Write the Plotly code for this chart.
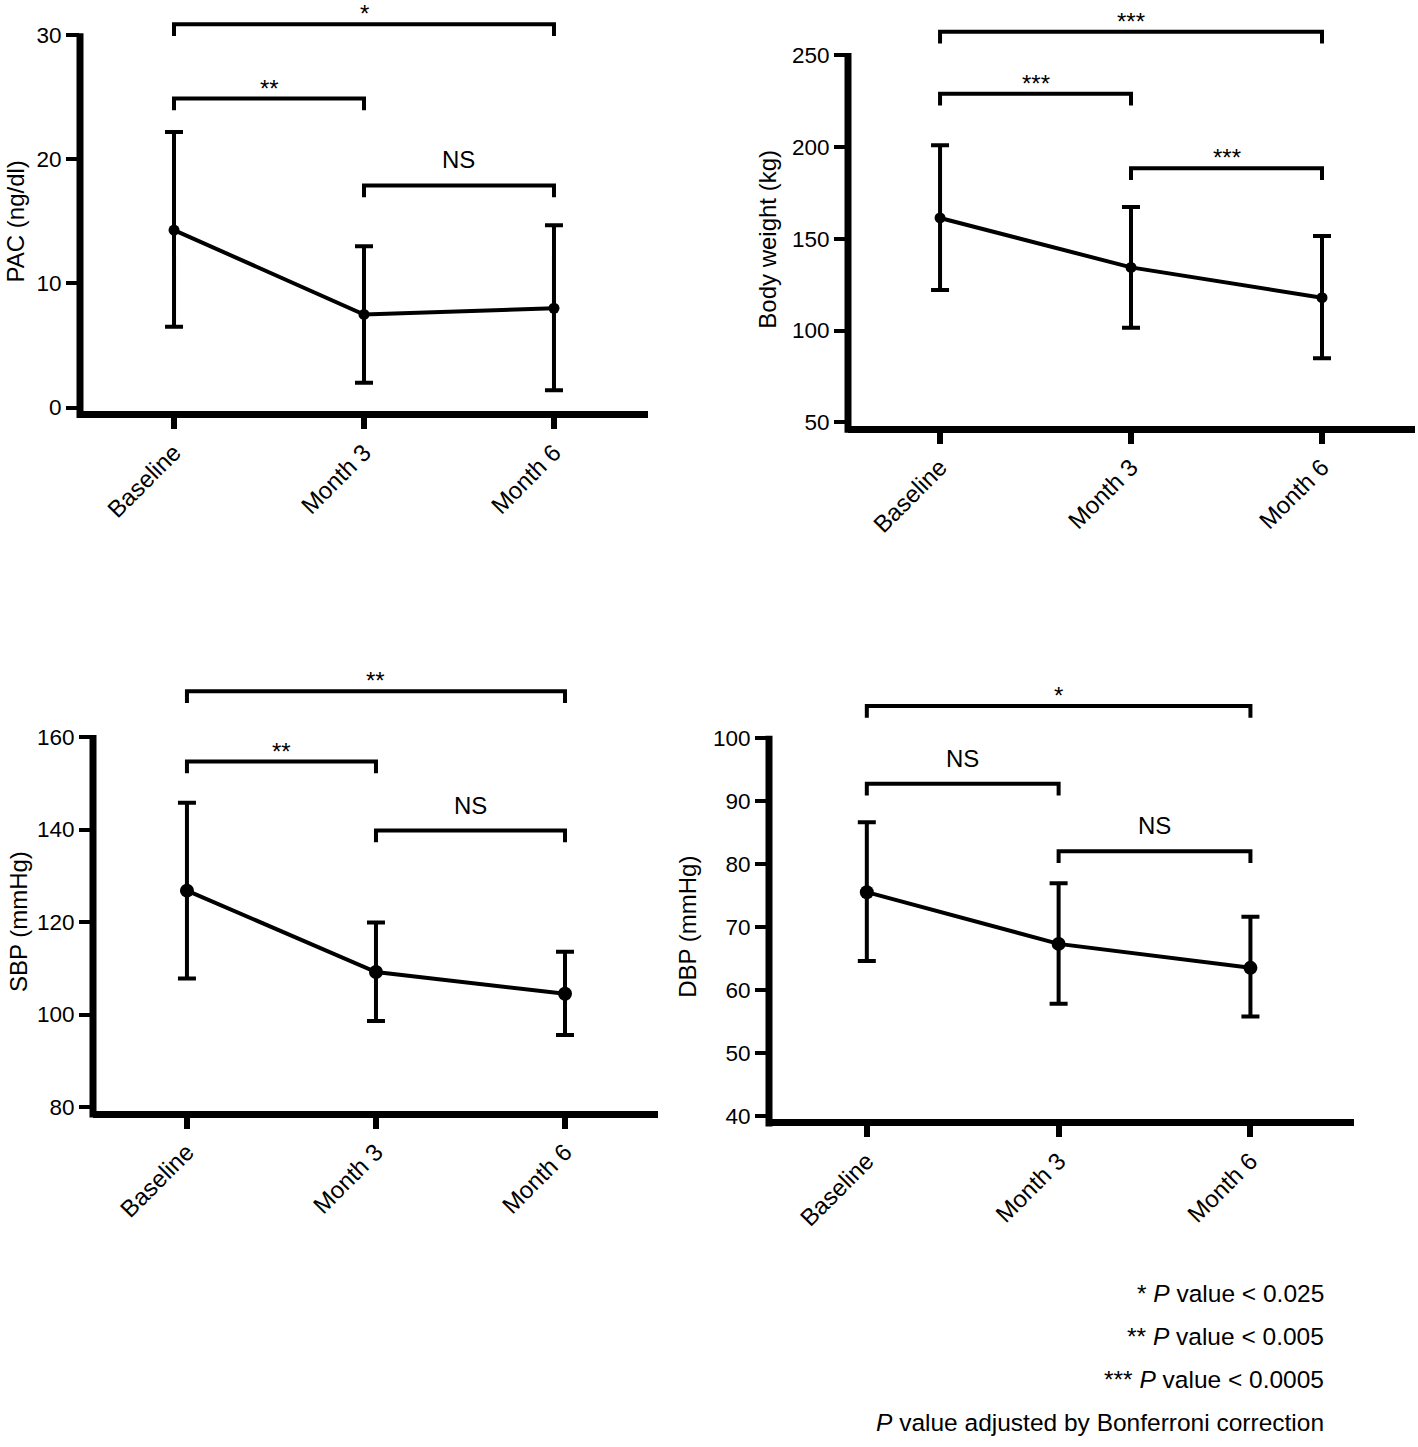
import plotly.graph_objects as go

W, H = 1418, 1447
FONT = "Liberation Sans, Arial, Helvetica, sans-serif"

# ---------------- data ----------------
categories = ["Baseline", "Month 3", "Month 6"]

pac_mean = [14.3, 7.5, 8.0]
pac_upper = [22.2, 13.0, 14.7]
pac_lower = [6.5, 2.0, 1.4]
pac_ticks = [0, 10, 20, 30]
pac_sig_pairs = [(0, 2), (0, 1), (1, 2)]
pac_sig_labels = ["*", "**", "NS"]
pac_sig_levels = [30.9, 24.9, 17.9]

bw_mean = [161.3, 134.4, 117.9]
bw_upper = [200.9, 167.3, 151.5]
bw_lower = [122.1, 101.5, 84.9]
bw_ticks = [50, 100, 150, 200, 250]
bw_sig_pairs = [(0, 2), (0, 1), (1, 2)]
bw_sig_labels = ["***", "***", "***"]
bw_sig_levels = [262.7, 228.9, 188.3]

sbp_mean = [126.8, 109.2, 104.5]
sbp_upper = [145.8, 119.9, 113.6]
sbp_lower = [107.8, 98.6, 95.6]
sbp_ticks = [80, 100, 120, 140, 160]
sbp_sig_pairs = [(0, 2), (0, 1), (1, 2)]
sbp_sig_labels = ["**", "**", "NS"]
sbp_sig_levels = [169.9, 154.7, 139.8]

dbp_mean = [75.5, 67.3, 63.5]
dbp_upper = [86.6, 76.9, 71.6]
dbp_lower = [64.6, 57.8, 55.8]
dbp_ticks = [40, 50, 60, 70, 80, 90, 100]
dbp_sig_pairs = [(0, 2), (0, 1), (1, 2)]
dbp_sig_labels = ["*", "NS", "NS"]
dbp_sig_levels = [105.0, 92.7, 82.0]

footnotes = [
    "* <i>P</i> value < 0.025",
    "** <i>P</i> value < 0.005",
    "*** <i>P</i> value < 0.0005",
    "<i>P</i> value adjusted by Bonferroni correction",
]

# ---------------- layout of panels (pixels) ----------------
# bottom = pixel row of the lowest tick value; ppu = pixels per data unit
panels = [
    dict(title="PAC (ng/dl)", mean=pac_mean, upper=pac_upper, lower=pac_lower,
         ticks=pac_ticks, pairs=pac_sig_pairs, labels=pac_sig_labels, levels=pac_sig_levels,
         left=80, right=648, bottom=417, ppu=12.7, xr=[-0.495, 2.495], ytop=32,
         title_dx=65, msize=11),
    dict(title="Body weight (kg)", mean=bw_mean, upper=bw_upper, lower=bw_lower,
         ticks=bw_ticks, pairs=bw_sig_pairs, labels=bw_sig_labels, levels=bw_sig_levels,
         left=848, right=1415, bottom=432, ppu=1.88, xr=[-0.482, 2.487], ytop=270,
         title_dx=80, msize=11),
    dict(title="SBP (mmHg)", mean=sbp_mean, upper=sbp_upper, lower=sbp_lower,
         ticks=sbp_ticks, pairs=sbp_sig_pairs, labels=sbp_sig_labels, levels=sbp_sig_levels,
         left=93, right=658, bottom=1121, ppu=4.73, xr=[-0.497, 2.492], ytop=172,
         title_dx=75, msize=14),
    dict(title="DBP (mmHg)", mean=dbp_mean, upper=dbp_upper, lower=dbp_lower,
         ticks=dbp_ticks, pairs=dbp_sig_pairs, labels=dbp_sig_labels, levels=dbp_sig_levels,
         left=769, right=1354, bottom=1130, ppu=6.45, xr=[-0.51, 2.54], ytop=107,
         title_dx=81, msize=14),
]

AXW = 7  # axis line width

fig = go.Figure()
layout = {}
shapes = []
annotations = []
xpos = list(range(len(categories)))

for i, p in enumerate(panels, start=1):
    sx = "" if i == 1 else str(i)
    xa, ya = "x" + sx, "y" + sx
    ymin = p["ticks"][0]
    top = p["bottom"] - (p["ytop"] - ymin) * p["ppu"]
    # plot area ends half an axis-line above the lowest tick so the x line is centred on it
    dom_bottom = p["bottom"] - AXW / 2
    yr0 = ymin - (AXW / 2) / p["ppu"]
    yr1 = p["ytop"]
    hpx = dom_bottom - top

    layout["xaxis" + sx] = dict(
        domain=[p["left"] / W, p["right"] / W], range=p["xr"], anchor=ya,
        tickmode="array", tickvals=xpos, ticktext=categories, tickangle=-45,
        ticks="outside", ticklen=11, tickwidth=5.5, tickcolor="black",
        showline=True, linewidth=AXW, linecolor="black",
        showgrid=False, zeroline=False,
        tickfont=dict(family=FONT, size=24, color="black"), fixedrange=True,
    )
    layout["yaxis" + sx] = dict(
        domain=[1 - dom_bottom / H, 1 - top / H],
        range=[yr0, yr1], anchor=xa,
        tickmode="array", tickvals=p["ticks"], ticks="outside", ticklen=13,
        tickwidth=3.5, tickcolor="black", showline=False, showgrid=False,
        zeroline=False, tickfont=dict(family=FONT, size=22.5, color="black"),
        fixedrange=True,
    )

    m, u, l = p["mean"], p["upper"], p["lower"]
    fig.add_trace(go.Scatter(
        x=xpos, y=m, mode="lines+markers", xaxis=xa, yaxis=ya, showlegend=False,
        line=dict(color="black", width=4),
        marker=dict(color="black", size=p["msize"]),
        error_y=dict(type="data", symmetric=False,
                     array=[a - b for a, b in zip(u, m)],
                     arrayminus=[b - c for b, c in zip(m, l)],
                     color="black", thickness=4, width=9),
    ))

    # y axis line from the x-axis line up to the top tick
    shapes.append(dict(
        type="line", xref=xa + " domain", yref=ya + " domain",
        x0=0, x1=0, y0=-AXW / hpx,
        y1=(p["ticks"][-1] - yr0) / (yr1 - yr0) + 2 / hpx,
        line=dict(color="black", width=AXW),
    ))

    tip = 12 / p["ppu"]
    for (a, b), lab, lvl in zip(p["pairs"], p["labels"], p["levels"]):
        shapes.append(dict(
            type="path", xref=xa, yref=ya,
            path=f"M {a},{lvl - tip} L {a},{lvl} L {b},{lvl} L {b},{lvl - tip}",
            line=dict(color="black", width=4),
        ))
        is_ns = lab == "NS"
        annotations.append(dict(
            x=(a + b) / 2, y=lvl, xref=xa, yref=ya, text=lab, showarrow=False,
            yanchor="bottom", xanchor="center", yshift=10 if is_ns else -5,
            font=dict(family=FONT, size=24, color="black"),
        ))

    annotations.append(dict(
        x=0, xref=xa + " domain", xshift=-p["title_dx"],
        y=(p["ticks"][0] + p["ticks"][-1]) / 2, yref=ya,
        text=p["title"], textangle=-90, showarrow=False,
        xanchor="center", yanchor="middle",
        font=dict(family=FONT, size=24, color="black"),
    ))

for txt, yc in zip(footnotes, [1302, 1345, 1388, 1431]):
    annotations.append(dict(
        x=1326 / W, y=1 - yc / H, xref="paper", yref="paper", text=txt,
        showarrow=False, xanchor="right", yanchor="middle",
        font=dict(family=FONT, size=24.5, color="black"),
    ))

fig.update_layout(
    width=W, height=H, margin=dict(l=0, r=0, t=0, b=0),
    paper_bgcolor="white", plot_bgcolor="white",
    shapes=shapes, annotations=annotations, **layout,
)

page_css = (
    "var s=document.createElement('style');"
    "s.innerHTML='html,body{margin:0;padding:0;overflow:hidden;width:%dpx;height:%dpx;}"
    "body>div{margin:0;padding:0;line-height:0;font-size:0;height:%dpx;overflow:hidden;}';"
    "document.head.appendChild(s);" % (W, H, H)
)

fig.write_html("out.html", config={"displayModeBar": False}, post_script=page_css)
